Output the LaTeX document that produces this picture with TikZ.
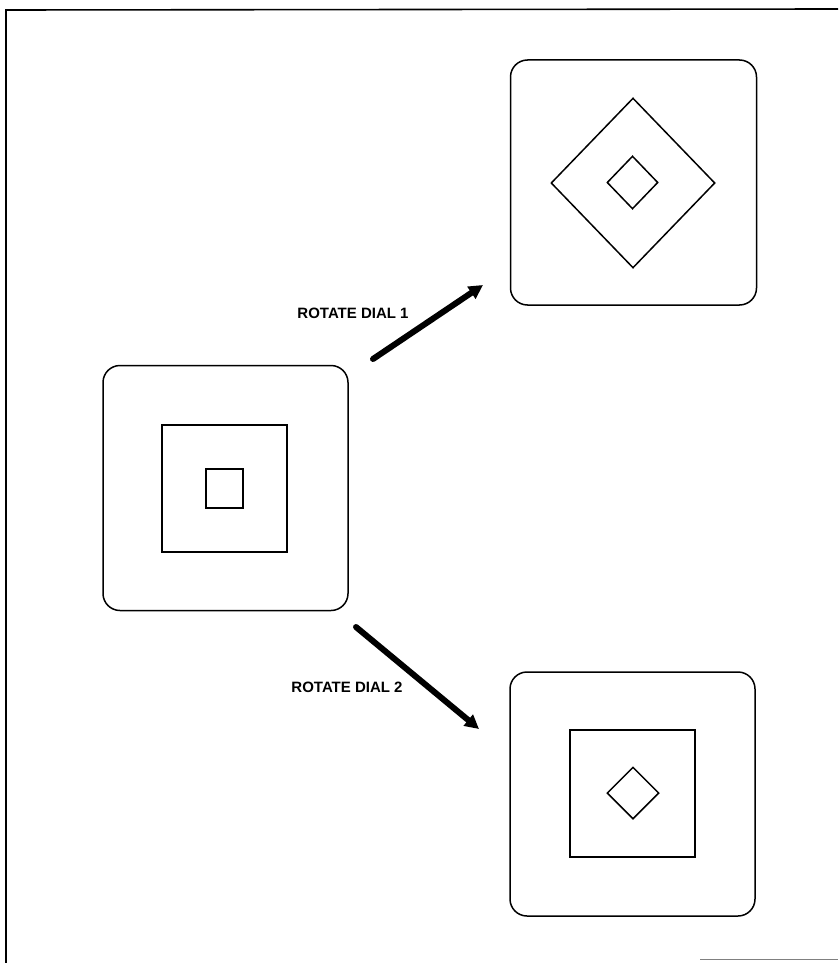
\documentclass[tikz,border=0pt]{standalone}
\usepackage{fontspec}
\setmainfont{Liberation Sans}
\usetikzlibrary{shapes.geometric,arrows.meta}
\begin{document}
\begin{tikzpicture}[x=1pt,y=-1pt,
  dialbox/.style={draw,rectangle,rounded corners=17pt,line width=1.5pt,inner sep=0pt,minimum width=245pt,minimum height=245pt},
  sqbox/.style={draw,rectangle,line width=1.5pt,inner sep=0pt},
  dia/.style={draw,diamond,line width=1.5pt,inner sep=0pt},
  bigarrow/.style={line width=6pt,line cap=round,-{Triangle[length=14pt,width=14pt]}},
  lbl/.style={font=\bfseries\fontsize{15}{17}\selectfont,inner sep=0pt}]
\useasboundingbox (0,0) rectangle (838,963);
% frame
\draw[line width=1.6pt] (838,9) -- (6,10) -- (6,963);
\draw[line width=1pt,gray] (700,959) -- (838,959);
% left dial
\node[dialbox] (left) at (225.5,488) {};
\node[sqbox,minimum width=125pt,minimum height=127pt] (leftmid) at (224.5,488.5) {};
\node[sqbox,minimum width=37pt,minimum height=39pt] (leftin) at (224.5,488.5) {};
% top-right dial
\node[dialbox,minimum width=246pt] (top) at (633.5,182.5) {};
\node[dia,minimum width=164pt,minimum height=170pt] (topmid) at (633,183) {};
\node[dia,minimum width=51pt,minimum height=53pt] (topin) at (632.5,182.5) {};
% bottom-right dial
\node[dialbox,minimum height=244pt] (bot) at (632.5,794) {};
\node[sqbox,minimum width=125pt,minimum height=127pt] (botmid) at (632.5,793.5) {};
\node[dia,minimum width=52pt,minimum height=52pt] (botin) at (633,793) {};
% arrows
\coordinate (a1s) at (373,359);
\coordinate (a1e) at (483,285);
\coordinate (a2s) at (356,627);
\coordinate (a2e) at (479,729);
\draw[bigarrow] (a1s) -- (a1e);
\draw[bigarrow] (a2s) -- (a2e);
\node[lbl] (l1) at (353,313) {ROTATE DIAL 1};
\node[lbl] (l2) at (347,687) {ROTATE DIAL 2};
\end{tikzpicture}
\end{document}
